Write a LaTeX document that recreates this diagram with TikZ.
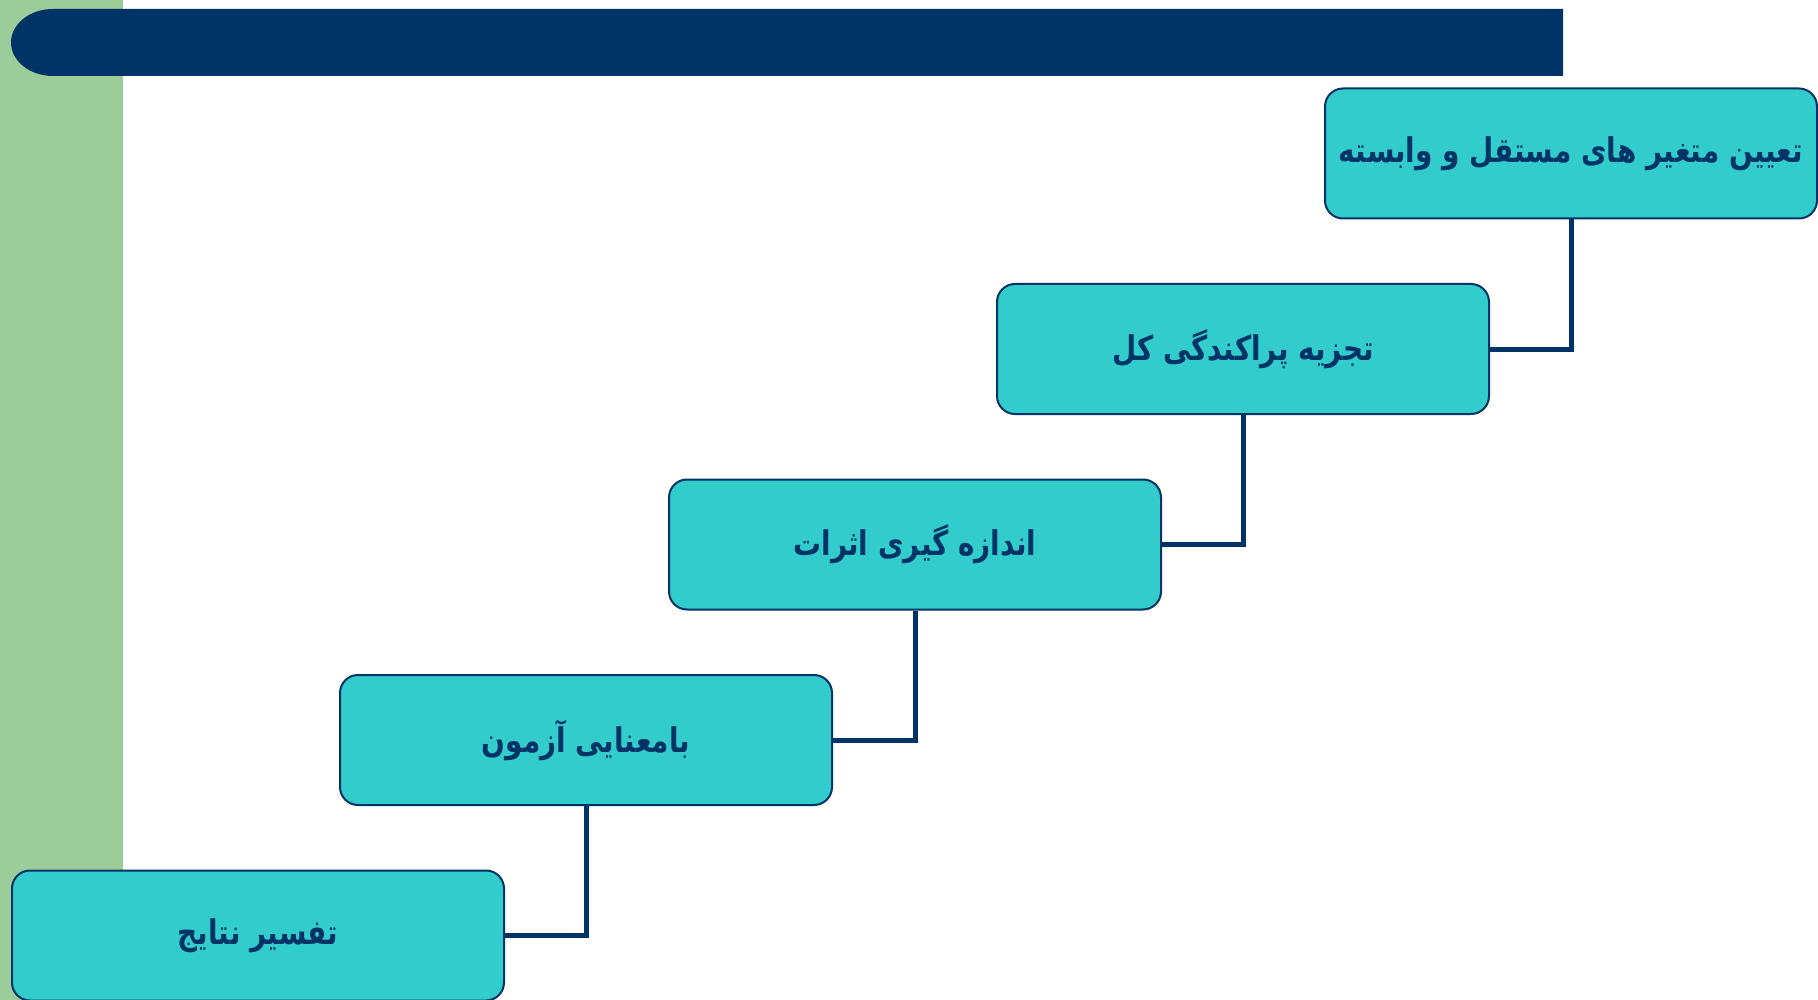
\documentclass[tikz,border=0pt]{standalone}
\usepackage{fontspec}
\usepackage{graphicx}
\newfontfamily\fa[Script=Arabic]{DejaVu Sans}
\TeXXeTstate=1
\definecolor{navy}{RGB}{0,51,102}
\definecolor{leaf}{RGB}{155,204,153}
\definecolor{teal}{RGB}{51,204,204}
% right-to-left label, set a little narrow
\newcommand{\rtl}[1]{\scalebox{0.82}[1]{\beginR #1\endR}}
\tikzset{
  stage/.style={draw=navy, line width=2pt, fill=teal, rounded corners=18pt,
    minimum width=492pt, minimum height=130pt, inner sep=0pt,
    text=navy, font=\fa\bfseries\fontsize{34}{40}\selectfont},
  link/.style={draw=navy, line width=5pt}
}
\begin{document}
\begin{tikzpicture}[x=1pt, y=-1pt]
\useasboundingbox (0,0) rectangle (1818,1000);
\fill[white] (0,0) rectangle (1818,1000);
% green side strip
\fill[leaf] (0,0) rectangle (123,1000);
% title bar with rounded left end
\fill[navy] (1563,9) -- (53,9) arc[start angle=270, end angle=90, x radius=42, y radius=33.5] -- (1563,76) -- cycle;
% stages
\node[stage] (s1) at (1571,153.5) {\rtl{تعیین متغیر های مستقل و وابسته}};
\node[stage] (s2) at (1243,349) {\rtl{تجزیه پراکندگی کل}};
\node[stage] (s3) at (915,544.5) {\rtl{اندازه گیری اثرات}};
\node[stage] (s4) at (586,740) {\rtl{بامعنایی آزمون}};
\node[stage] (s5) at (258,935.5) {\rtl{تفسیر نتایج}};
% connectors
\draw[link] (s1.south) |- (s2.east);
\draw[link] (s2.south) |- (s3.east);
\draw[link] (s3.south) |- (s4.east);
\draw[link] (s4.south) |- (s5.east);
\end{tikzpicture}
\end{document}
